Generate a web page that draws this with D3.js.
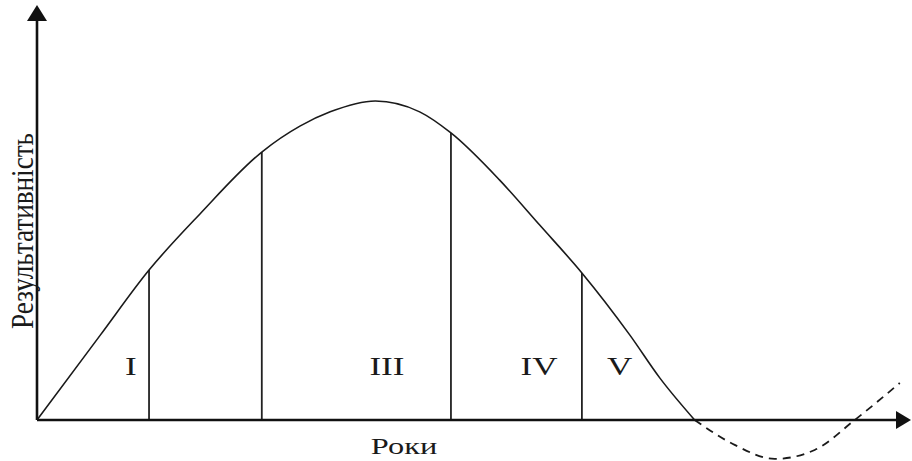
<!DOCTYPE html>
<html>
<head>
<meta charset="utf-8">
<script src="https://cdn.jsdelivr.net/npm/d3@7"></script>
<style>
    body { margin: 0; background: #fff; }
    svg { display: block; }
    text { font-family: "Liberation Serif", "Times New Roman", serif; fill: #1a1a1a; }
</style>
</head>
<body>
<svg width="912" height="461"></svg>
<script>
// Life-cycle curve: years (x) vs performance (y)
const curveYears = [0, 8.7, 15.4, 22.4, 30.9, 36.2, 40.3, 46.5, 52.6, 56.9, 63.6, 69.1, 74.9, 81.5, 85.6, 90.4];
const curveValues = [0, 26.6, 47.0, 64.6, 84.0, 92.2, 96.6, 100, 96.6, 90.0, 75.2, 61.1, 46.1, 26.6, 13.2, 0];

// Continuation after the cycle ends (dashed)
const tailYears = [90.4, 95.9, 101.4, 106.9, 112.4, 118.6];
const tailValues = [0, -7.8, -12.2, -9.4, 0, 11.6];

// Phase boundaries
const boundaryYears = [15.4, 30.9, 56.9, 74.9];
const boundaryValues = [47.0, 84.0, 90.0, 46.1];

// Phase labels
const phaseLabels = ["I", "III", "IV", "V"];
const phaseYears = [12.9, 48.1, 69.0, 80.1];

const xTitle = "Роки";
const yTitle = "Результативність";

const svg = d3.select("svg");

const x = d3.scaleLinear().domain([0, 120]).range([37, 910]);
const y = d3.scaleLinear().domain([0, 100]).range([420, 101]);

const line = d3.line()
    .x(d => x(d[0]))
    .y(d => y(d[1]))
    .curve(d3.curveMonotoneX);

// Phase boundary lines
svg.append("g")
    .selectAll("line")
    .data(boundaryYears)
    .join("line")
    .attr("x1", d => x(d))
    .attr("x2", d => x(d))
    .attr("y1", y(0))
    .attr("y2", (d, i) => y(boundaryValues[i]))
    .attr("stroke", "#222")
    .attr("stroke-width", 1.8);

// Main curve
svg.append("path")
    .datum(d3.zip(curveYears, curveValues))
    .attr("d", line)
    .attr("fill", "none")
    .attr("stroke", "#1a1a1a")
    .attr("stroke-width", 1.6);

// Dashed tail
svg.append("path")
    .datum(d3.zip(tailYears, tailValues))
    .attr("d", line)
    .attr("fill", "none")
    .attr("stroke", "#1a1a1a")
    .attr("stroke-width", 1.8)
    .attr("stroke-dasharray", "8,6");

// Axes with arrowheads
const x0 = x(0), y0 = y(0);
svg.append("line")
    .attr("x1", x0).attr("x2", 902)
    .attr("y1", y0).attr("y2", y0)
    .attr("stroke", "#111").attr("stroke-width", 2.6);
svg.append("line")
    .attr("x1", x0).attr("x2", x0)
    .attr("y1", y0).attr("y2", 14)
    .attr("stroke", "#111").attr("stroke-width", 2.6);
svg.append("path")
    .attr("d", `M${x0 - 10},21 L${x0},5 L${x0 + 10},21 Z`)
    .attr("fill", "#111");
svg.append("path")
    .attr("d", `M896,${y0 - 9} L911,${y0} L896,${y0 + 9} Z`)
    .attr("fill", "#111");

// Phase labels (glyphs look horizontally stretched in the source)
svg.append("g")
    .selectAll("text")
    .data(phaseLabels)
    .join("text")
    .attr("transform", (d, i) => `translate(${x(phaseYears[i])},${y(14)}) scale(1.35,1)`)
    .attr("text-anchor", "middle")
    .style("font-size", "26px")
    .text(d => d);

// Axis titles
svg.append("text")
    .attr("transform", `translate(404,454) scale(1.35,1)`)
    .attr("text-anchor", "middle")
    .style("font-size", "24px")
    .text(xTitle);

svg.append("text")
    .attr("transform", `translate(33,231) rotate(-90) scale(1,1.3)`)
    .attr("text-anchor", "middle")
    .attr("textLength", 196)
    .attr("lengthAdjust", "spacingAndGlyphs")
    .style("font-size", "24px")
    .text(yTitle);
</script>
</body>
</html>
